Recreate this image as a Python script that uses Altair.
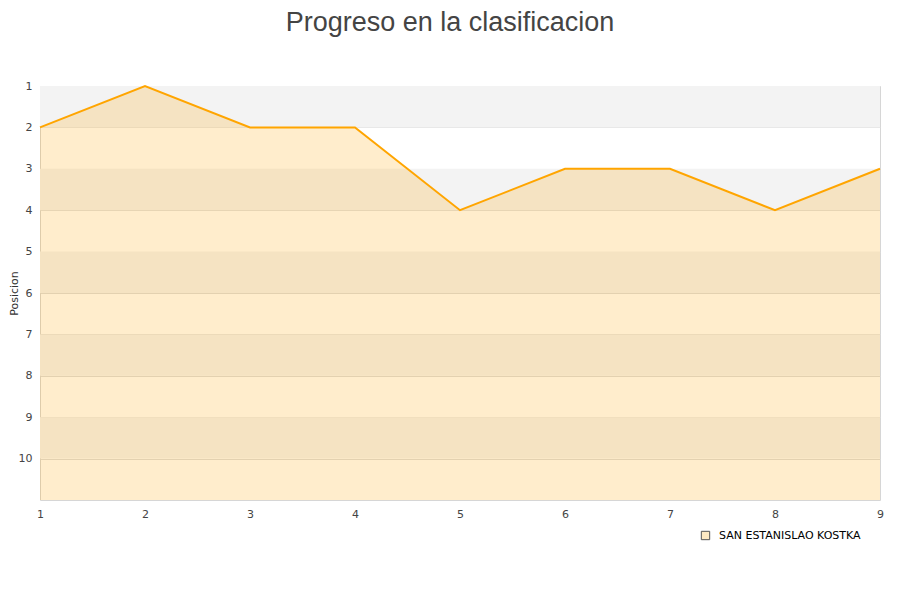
import altair as alt
import pandas as pd

jornadas = [1, 2, 3, 4, 5, 6, 7, 8, 9]
posiciones = [2, 1, 2, 2, 4, 3, 3, 4, 3]
equipo = "SAN ESTANISLAO KOSTKA"
band_starts = [1, 3, 5, 7, 9]

df = pd.DataFrame({"jornada": jornadas, "pos": posiciones, "equipo": [equipo] * len(jornadas)})
bands = pd.DataFrame({"y0": band_starts, "y1": [b + 1 for b in band_starts]})

yscale = alt.Scale(domain=[1, 11], reverse=True, nice=False, zero=False)
xscale = alt.Scale(domain=[1, 9], nice=False, zero=False)

band_layer = alt.Chart(bands).mark_rect(color="#f3f3f3").encode(
    y=alt.Y("y0:Q", scale=yscale),
    y2="y1:Q",
    x=alt.value(0),
    x2=alt.value(840),
)

area = alt.Chart(df).mark_area(color="#ffa500", fillOpacity=0.2, interpolate="linear").encode(
    x=alt.X("jornada:Q", scale=xscale,
            axis=alt.Axis(values=jornadas, format="d", title=None, grid=False,
                          ticks=False, domain=False, labelPadding=8, labelFlush=False,
                          labelFontSize=11, labelColor="#444", labelFont="DejaVu Sans")),
    y=alt.Y("pos:Q", scale=yscale,
            axis=alt.Axis(values=list(range(1, 11)), format="d", title="Posicion",
                          grid=True, gridColor="#dddddd", ticks=False, domain=False,
                          labelPadding=8, labelFontSize=11, labelColor="#444",
                          labelFont="DejaVu Sans", titleFont="DejaVu Sans",
                          titleFontSize=11, titleFontWeight="normal", titleColor="#333",
                          titleX=-23, titleY=207, titleAngle=270,
                          titleBaseline="alphabetic", titleAlign="center")),
    y2=alt.datum(11),
)

line = alt.Chart(df).mark_line(color="#ffa500", strokeWidth=2).encode(
    x=alt.X("jornada:Q", scale=xscale),
    y=alt.Y("pos:Q", scale=yscale),
)

legend_layer = alt.Chart(df).mark_square(size=0, stroke="#555555", strokeWidth=1,
                                         filled=True, opacity=1).encode(
    x=alt.X("jornada:Q", scale=xscale),
    y=alt.Y("pos:Q", scale=yscale),
    fill=alt.Fill("equipo:N", scale=alt.Scale(range=["#fde9c2"]),
                  legend=alt.Legend(title=None, orient="none", legendX=660, legendY=444,
                                    symbolType="square", symbolSize=70,
                                    symbolStrokeColor="#555555", symbolStrokeWidth=1,
                                    labelOffset=8,
                                    labelFontSize=11, labelColor="#000",
                                    labelFont="DejaVu Sans")),
)

chart = alt.layer(band_layer, area, line, legend_layer).properties(
    width=840,
    height=414,
    title=alt.Title("Progreso en la clasificacion", fontSize=27, font="Liberation Sans",
                    fontWeight="normal", color="#444", anchor="middle", offset=43, dx=-10),
    autosize=alt.AutoSizeParams(type="none"),
    padding={"left": 32, "top": 78, "right": 12, "bottom": 92},
).configure_view(stroke="#d6d6d6", strokeWidth=1)

chart.save("out.html", embed_options={"renderer": "svg", "actions": False})
